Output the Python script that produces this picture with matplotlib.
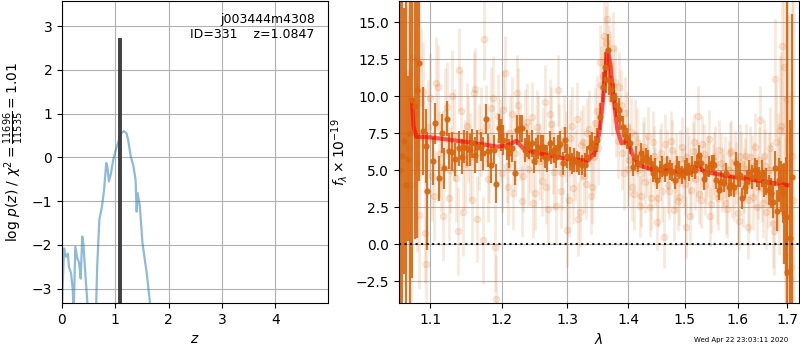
import numpy as np
import matplotlib
matplotlib.use('Agg')
import matplotlib.pyplot as plt
from matplotlib.ticker import NullLocator

# --- p(z) panel ---
z_grid = [0.00, 0.01, 0.04, 0.06, 0.08, 0.11, 0.13, 0.17, 0.20, 0.22,
          0.25, 0.29, 0.32, 0.35, 0.38, 0.40, 0.44, 0.48, 0.56, 0.64,
          0.66, 0.70, 0.75, 0.79, 0.83, 0.85, 0.88, 0.92, 0.96, 1.01,
          1.07, 1.11, 1.16, 1.21, 1.24, 1.29, 1.34, 1.38, 1.40, 1.42,
          1.44, 1.46, 1.51, 1.59, 1.65, 1.75]
logpz = [-3.6, -3.0, -2.08, -2.25, -2.27, -2.2, -2.5, -2.65, -3.0, -3.5,
         -2.04, -2.32, -2.4, -2.77, -1.81, -1.96, -2.7, -3.4, -5.0, -3.4,
         -2.5, -1.43, -1.12, -0.74, -0.13, -0.2, -0.55, -0.36, -0.06, 0.17,
         0.40, 0.55, 0.60, 0.55, 0.40, 0.02, -0.2, -0.51, -1.24, -0.82,
         -0.97, -1.12, -1.96, -2.65, -3.32, -4.2]
z_best = 1.0847
pz_peak = 2.67
root = 'j003444m4308'
obj_id = 331

# --- spectrum panel ---
# binned spectrum
lam_bin = [1.0605, 1.063, 1.0655, 1.068, 1.0705, 1.073, 1.0755, 1.080, 1.083, 1.0854,
           1.0898, 1.0943, 1.096, 1.1039, 1.107, 1.112, 1.116, 1.119, 1.123, 1.126,
           1.1296, 1.134, 1.140, 1.144, 1.147, 1.151, 1.1547, 1.158, 1.1614, 1.165,
           1.170, 1.1733, 1.1776, 1.181, 1.1843, 1.189, 1.1924, 1.1957, 1.1986,
           1.2025, 1.2075, 1.211, 1.215, 1.220, 1.2235, 1.2275, 1.231, 1.235, 1.2375,
           1.2415, 1.245, 1.2485, 1.2515, 1.255, 1.259, 1.2625, 1.265, 1.2685, 1.2725,
           1.275, 1.2785, 1.2825, 1.286, 1.289, 1.2935, 1.296, 1.300, 1.304, 1.307,
           1.311, 1.3157, 1.3196, 1.3236, 1.328, 1.3325, 1.3364, 1.3405, 1.344, 1.3477,
           1.3533, 1.358, 1.361,
           1.363, 1.3656, 1.3685, 1.3718, 1.376, 1.3798, 1.3843, 1.387, 1.391, 1.3955,
           1.3983, 1.404, 1.409, 1.413, 1.4176, 1.4217, 1.426, 1.4305, 1.4353, 1.4393,
           1.4436, 1.447, 1.4511, 1.4552, 1.46, 1.464, 1.4688, 1.4735, 1.4776, 1.4824,
           1.4864, 1.4905, 1.4952, 1.50, 1.5044, 1.5088, 1.5139, 1.519, 1.5234, 1.5266,
           1.531,
           1.5361, 1.5405, 1.5456, 1.5506, 1.5551, 1.5595, 1.5646, 1.569, 1.5741, 1.5785,
           1.5836, 1.588, 1.5932, 1.5962, 1.6013, 1.6058, 1.609, 1.6142, 1.6187, 1.6231,
           1.6283, 1.6335, 1.6379, 1.6423, 1.6475, 1.6527, 1.6571, 1.6623, 1.6667, 1.67,
           1.6744, 1.6783, 1.6827, 1.6873, 1.6904, 1.6942, 1.6975, 1.70, 1.7052, 1.7096]
flux_bin = [5.0, 6.0, 7.0, 4.0, 5.8, 7.5, 9.75, 9.34, 10.4, 12.27,
            7.66, 6.66, 3.62, 5.63, 8.17, 4.46, 7.5, 5.13, 8.5, 6.3,
            6.26, 5.74, 6.49, 5.93, 6.6, 6.49, 6.37, 6.82, 6.03, 6.6,
            6.6, 6.15, 8.47, 6.33, 5.36, 6.4, 4.1, 7.84, 7.39,
            7.05, 6.6, 6.15, 6.49, 4.8, 7.72, 7.84, 7.84, 6.37, 6.82,
            6.6, 6.82, 5.63, 6.26, 6.6, 6.49, 6.6, 5.93, 5.81, 6.87,
            6.26, 6.37, 5.93, 6.6, 6.78, 5.47, 7.05, 5.97, 5.81, 5.47,
            5.7, 5.59, 5.47, 5.36, 5.36, 5.93, 6.6, 6.82, 6.6, 7.05,
            8.63, 10.65, 12.0,
            11.2, 13.1, 11.1, 10.5, 9.97, 9.41, 9.07, 8.51, 7.95, 7.39,
            7.16, 6.82, 5.25, 5.93, 5.47, 6.15, 5.7, 5.93, 5.7, 5.47,
            4.8, 5.13, 4.34, 5.02, 5.25, 4.8, 5.36, 5.02, 4.91, 4.34,
            5.25, 5.02, 4.68, 5.02, 5.25, 4.91, 5.25, 5.02, 5.47, 6.03,
            5.47,
            4.4, 4.8, 5.25, 5.47, 5.36, 4.34, 3.67, 4.23, 4.12, 4.8,
            3.9, 4.0, 3.9, 5.47, 4.57, 4.68, 3.11, 3.9, 4.23, 4.91,
            4.57, 5.02, 4.8, 4.46, 4.8, 4.12, 4.23, 3.67, 3.45, 2.88,
            5.13, 2.28, 4.34, 3.9, 3.45, 2.1, 1.87, -1.85, 0.4, 4.57]
err_bin = [30, 30, 9, 30, 5.6, 12, 12, 9, 10, 8,
           3.0, 2.5, 4.0, 1.6, 1.4, 1.5, 1.3, 1.4, 1.2, 1.2,
           1.3, 1.1, 1.2, 1.2, 1.1, 1.2, 1.1, 1.0, 1.2, 1.1,
           1.0, 1.1, 1.0, 1.1, 1.2, 1.0, 1.3, 1.0, 1.1,
           1.0, 0.9, 1.0, 0.9, 0.8, 1.0, 0.9, 0.9, 0.8, 0.9,
           0.8, 0.9, 0.8, 0.9, 0.8, 0.9, 0.8, 0.8, 0.9, 0.8,
           0.8, 0.9, 0.8, 0.8, 0.9, 0.8, 0.9, 0.8, 0.8, 0.7,
           0.8, 0.7, 0.8, 0.7, 0.8, 0.7, 0.8, 0.8, 0.7, 0.8,
           0.9, 1.0, 1.0,
           1.0, 1.1, 1.0, 0.9, 0.9, 0.8, 0.8, 0.8, 0.7, 0.7,
           0.7, 0.7, 0.6, 0.7, 0.6, 0.7, 0.6, 0.6, 0.7, 0.6,
           0.6, 0.7, 0.6, 0.6, 0.7, 0.6, 0.6, 0.7, 0.6, 0.6,
           0.7, 0.6, 0.6, 0.7, 0.6, 0.6, 0.7, 0.6, 0.6, 0.7,
           0.6,
           0.7, 0.6, 0.7, 0.6, 0.7, 0.6, 0.7, 0.7, 0.6, 0.7,
           0.7, 0.7, 0.7, 0.8, 0.7, 0.8, 0.7, 0.8, 0.8, 0.8,
           0.8, 0.8, 0.9, 0.8, 0.9, 0.9, 0.9, 1.0, 1.0, 1.1,
           1.2, 1.4, 1.5, 1.7, 2.0, 3.4, 4.0, 30, 8, 11]

# unbinned spectrum, two beams
lam_a = [1.070, 1.075, 1.080, 1.085, 1.090, 1.095, 1.100, 1.105, 1.110, 1.115,
         1.120, 1.125, 1.130, 1.135, 1.140, 1.145, 1.150, 1.155, 1.160, 1.165,
         1.170, 1.175, 1.180, 1.185, 1.190, 1.195, 1.200, 1.205, 1.210, 1.215,
         1.220, 1.225, 1.230, 1.235, 1.240, 1.245, 1.250, 1.255, 1.260, 1.265,
         1.270, 1.275, 1.280, 1.285, 1.290, 1.295, 1.300, 1.305, 1.310, 1.315,
         1.320, 1.325, 1.330, 1.335, 1.340, 1.345, 1.350, 1.355, 1.360, 1.365,
         1.370, 1.375, 1.380, 1.385, 1.390, 1.395, 1.400, 1.405, 1.410, 1.415,
         1.420, 1.425, 1.430, 1.435, 1.440, 1.445, 1.450, 1.455, 1.460, 1.465,
         1.470, 1.475, 1.480, 1.485, 1.490, 1.495, 1.500, 1.505, 1.510, 1.515,
         1.520, 1.525, 1.530, 1.535, 1.540, 1.545, 1.550, 1.555, 1.560, 1.565,
         1.570, 1.575, 1.580, 1.585, 1.590, 1.595, 1.600, 1.605, 1.610, 1.615,
         1.620, 1.625, 1.630, 1.635, 1.640, 1.645, 1.650, 1.655, 1.660, 1.665,
         1.670, 1.675, 1.680, 1.685, 1.690, 1.695, 1.700, 1.705, 1.710]
flux_a = [11.5, 4.0, 8.8, 2.0, 10.3, -1.3, 9.9, 3.3, 10.6, 5.2,
          8.9, 3.1, 10.0, 4.5, 11.8, 2.2, 8.0, 5.9, 10.2, 1.7,
          7.6, 13.9, 4.4, 9.2, -0.2, 8.7, 4.8, 11.6, 3.9, 8.8,
          6.2, 9.4, 2.9, 7.9, 5.1, 8.6, 3.5, 7.4, 4.3, 9.6,
          2.4, 8.1, 4.9, 10.4, 3.6, 7.7, 1.0, 7.2, 3.8, 8.5,
          2.2, 6.9, 4.1, 7.8, 3.9, 8.2, 6.5, 10.8, 14.1, 15.2,
          11.9, 13.3, 8.4, 10.6, 6.2, 8.9, 5.1, 7.6, 3.4, 6.9,
          2.6, 6.3, 4.2, 7.3, 3.1, 6.0, 1.5, 5.8, 3.6, 6.8,
          4.0, 7.0, 2.3, 5.5, 3.2, 6.6, 4.1, 5.9, 1.9, 6.3,
          4.4, 8.7, 3.0, 6.1, 4.8, 7.1, 2.7, 5.6, 3.5, 6.4,
          4.2, 5.2, 2.4, 6.2, 3.8, 5.6, 2.1, 6.0, 3.4, 5.1,
          1.2, 5.9, 3.2, 6.6, 3.9, 8.4, 2.8, 5.3, 3.7, 6.5,
          1.4, 11.2, 4.9, 7.7, 13.4, 2.0, 9.8, -2.3, 6.0]
lam_b = [1.0725, 1.0775, 1.0825, 1.0875, 1.0925, 1.0975, 1.1025, 1.1075, 1.1125, 1.1175,
         1.1225, 1.1275, 1.1325, 1.1375, 1.1425, 1.1475, 1.1525, 1.1575, 1.1625, 1.1675,
         1.1725, 1.1775, 1.1825, 1.1875, 1.1925, 1.1975, 1.2025, 1.2075, 1.2125, 1.2175,
         1.2225, 1.2275, 1.2325, 1.2375, 1.2425, 1.2475, 1.2525, 1.2575, 1.2625, 1.2675,
         1.2725, 1.2775, 1.2825, 1.2875, 1.2925, 1.2975, 1.3025, 1.3075, 1.3125, 1.3175,
         1.3225, 1.3275, 1.3325, 1.3375, 1.3425, 1.3475, 1.3525, 1.3575, 1.3625, 1.3675,
         1.3725, 1.3775, 1.3825, 1.3875, 1.3925, 1.3975, 1.4025, 1.4075, 1.4125, 1.4175,
         1.4225, 1.4275, 1.4325, 1.4375, 1.4425, 1.4475, 1.4525, 1.4575, 1.4625, 1.4675,
         1.4725, 1.4775, 1.4825, 1.4875, 1.4925, 1.4975, 1.5025, 1.5075, 1.5125, 1.5175,
         1.5225, 1.5275, 1.5325, 1.5375, 1.5425, 1.5475, 1.5525, 1.5575, 1.5625, 1.5675,
         1.5725, 1.5775, 1.5825, 1.5875, 1.5925, 1.5975, 1.6025, 1.6075, 1.6125, 1.6175,
         1.6225, 1.6275, 1.6325, 1.6375, 1.6425, 1.6475, 1.6525, 1.6575, 1.6625, 1.6675,
         1.6725, 1.6775, 1.6825, 1.6875, 1.6925, 1.6975, 1.7025, 1.7075, 1.7125]
flux_b = [6.5, 12.6, 5.5, 9.6, 0.8, 7.9, 4.6, 10.9, 6.1, 1.9,
          9.3, 5.0, 7.4, 0.9, 9.0, 5.4, 7.1, 3.0, 10.5, 6.6,
          0.3, 8.0, 5.7, 9.9, -3.7, 7.0, 9.1, 5.3, 7.5, 3.5,
          10.2, 6.8, 4.6, 8.3, 6.0, 2.8, 7.9, 5.6, 6.9, 3.9,
          8.8, 5.9, 2.6, 7.1, 4.8, 6.6, 3.0, 8.0, 5.3, 1.7,
          6.7, 4.6, 7.5, 3.3, 5.9, 9.0, 12.3, 11.4, 13.6, 12.2,
          9.8, 11.0, 7.0, 9.4, 4.8, 7.9, 5.7, 3.9, 7.4, 5.0,
          3.3, 6.6, 5.3, 2.5, 6.9, 4.6, 3.1, 6.2, 0.5, 5.7,
          3.6, 6.4, 4.3, 2.9, 5.8, 4.5, 1.2, 5.4, 3.7, 6.9,
          5.0, 3.4, 6.8, 4.0, 5.3, 1.9, 4.9, 6.0, 3.1, 5.5,
          4.5, 2.8, 5.0, 6.3, 3.6, 4.8, 1.6, 5.5, 4.3, 6.0,
          3.0, 5.3, 4.7, 2.5, 5.7, 3.8, 6.0, 2.2, 5.0, 4.1,
          0.9, 6.9, 3.3, 8.0, 12.0, -0.8, 5.5, -1.5, 3.0]
err_raw = [9, 8, 6, 5, 3.4, 3.2, 3.0, 3.1, 2.9, 3.0,
           3.0, 2.9, 3.1, 3.0, 2.8, 3.0, 2.9, 3.0, 2.8, 2.9,
           3.0, 2.8, 2.9, 2.8, 3.0, 2.8, 2.6, 2.5, 2.6, 2.5,
           2.6, 2.5, 2.4, 2.6, 2.5, 2.4, 2.5, 2.6, 2.4, 2.5,
           2.4, 2.5, 2.6, 2.4, 2.5, 2.4, 2.5, 2.6, 2.4, 2.5,
           2.4, 2.5, 2.4, 2.6, 2.5, 2.4, 2.5, 2.6, 2.5, 2.6,
           2.5, 2.4, 2.5, 2.4, 2.5, 2.4, 2.5, 2.3, 2.4, 2.3,
           2.1, 2.0, 2.1, 2.0, 2.1, 2.0, 1.9, 2.0, 2.1, 2.0,
           1.9, 2.0, 2.1, 2.0, 1.9, 2.0, 2.1, 2.0, 1.9, 2.0,
           2.1, 2.0, 1.9, 2.0, 2.1, 2.0, 1.9, 2.0, 2.1, 2.0,
           2.0, 2.1, 2.0, 2.1, 2.0, 2.1, 2.0, 2.1, 2.2, 2.1,
           2.2, 2.1, 2.2, 2.3, 2.2, 2.3, 2.4, 2.5, 2.6, 2.8,
           3.0, 4.0, 4.0, 5.0, 6.0, 8.0, 10.0, 12.0, 14.0]

# model
lam_model = [1.0758, 1.078, 1.0815, 1.10, 1.148, 1.195, 1.21, 1.222, 1.232, 1.245,
             1.294, 1.333, 1.344, 1.352, 1.358, 1.363, 1.366, 1.370, 1.376, 1.382,
             1.389, 1.394, 1.40, 1.407, 1.418, 1.436, 1.495, 1.514, 1.525, 1.536,
             1.59, 1.654, 1.70]
flux_model = [9.75, 7.95, 7.27, 7.23, 6.93, 6.6, 6.71, 7.0, 6.49, 6.26,
              5.81, 5.65, 6.15, 7.5, 9.75, 12.23, 13.13, 12.23, 9.75, 7.72,
              6.82, 6.93, 7.09, 6.15, 5.36, 5.13, 4.9, 4.9, 5.43, 4.9,
              4.57, 4.23, 4.0]

lam_ticks = [1.1, 1.2, 1.3, 1.4, 1.5, 1.6, 1.7]
lam_ticklabels = ['1.1', '1.2', '1.3', '1.4', '1.5', '1.6', '1.7']
timestamp = 'Wed Apr 22 23:03:11 2020'

spec_color = '#d8670f'

fig = plt.figure(figsize=(8, 3.5), dpi=100)
ax = fig.add_axes([0.0775, 0.134, 0.3325, 0.863])
ax2 = fig.add_axes([0.49875, 0.134, 0.5, 0.863])

# left: p(z)
ymin, ymax = pz_peak - 6, pz_peak + 0.9
ax.plot(z_grid, logpz, color='#1f77b4', alpha=0.5, lw=1.6)
ax.plot([z_best, z_best], [ymin, pz_peak], color='0.25', lw=2.8)
ax.set_xlim(0, 4.99)
ax.set_ylim(ymin, ymax)
ax.set_xticks([0, 1, 2, 3, 4])
ax.set_yticks([-3, -2, -1, 0, 1, 2, 3])
ax.grid()
ax.set_xlabel(r'$z$')
ax.set_ylabel(r'$\log\,p(z)$ / $\chi^2=\frac{11696}{11535}=1.01$')
ax.text(0.95, 0.96, '{0}\nID={1}    z={2:.4f}'.format(root, obj_id, z_best),
        ha='right', va='top', transform=ax.transAxes, fontsize=9)

# right: spectrum
ax2.errorbar(lam_a, flux_a, err_raw, color=spec_color, alpha=0.14,
             marker='o', ms=4.5, linestyle='None', elinewidth=2)
ax2.errorbar(lam_b, flux_b, err_raw, color=spec_color, alpha=0.14,
             marker='o', ms=4.5, linestyle='None', elinewidth=2)
ax2.errorbar(lam_bin, flux_bin, err_bin, color=spec_color, alpha=0.9,
             marker='o', ms=3.5, linestyle='None', elinewidth=1.6)
ax2.plot(lam_model, flux_model, color='r', alpha=0.65, lw=3)
ax2.set_xscale('log')
ax2.set_xlim(1.059, 1.7245)
ax2.plot([1.059, 1.7245], [0, 0], color='k', linestyle=':', lw=1.5, alpha=0.9)
ax2.set_ylim(-3.97, 16.44)
ax2.set_yticks([-2.5, 0, 2.5, 5, 7.5, 10, 12.5, 15])
ax2.set_xticks(lam_ticks)
ax2.set_xticklabels(lam_ticklabels)
ax2.xaxis.set_minor_locator(NullLocator())
ax2.grid()
ax2.set_xlabel(r'$\lambda$')
ax2.set_ylabel(r'$f_\lambda\times 10^{-19}$')

fig.text(0.985, 0.028, timestamp, ha='right', va='center', fontsize=5)

fig.savefig('out.png', dpi=100)
